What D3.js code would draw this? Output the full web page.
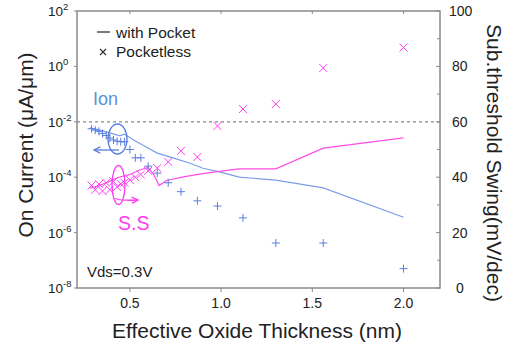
<!DOCTYPE html>
<html lang="en">
<head>
	<title>On Current and Sub-threshold Swing vs EOT</title>
	<script src="https://d3js.org/d3.v7.min.js" charset="utf-8"></script>
	<style>
		body { margin: 0; background: #fff; }
		text { font-family: "Liberation Sans", Arial, sans-serif; fill: #222; }
	</style>
</head>
<body>
<script>
	// Pocketless points (markers)
	var eotPts = [0.29, 0.31, 0.33, 0.35, 0.37, 0.39, 0.41, 0.43, 0.45, 0.47, 0.50, 0.53, 0.56, 0.60, 0.65, 0.71, 0.78, 0.87, 0.98, 1.12, 1.30, 1.56, 2.0];
	var ionPocketless = [5.6e-3, 5.0e-3, 4.5e-3, 3.8e-3, 3.2e-3, 2.6e-3, 2.2e-3, 2.0e-3, 1.9e-3, 1.9e-3, 1.0e-3, 5.0e-4, 5.0e-4, 2.5e-4, 1.4e-4, 6.3e-5, 3.0e-5, 1.4e-5, 9.1e-6, 3.4e-6, 4.2e-7, 4.2e-7, 5.0e-8];
	var ssPocketless = [37, 35.5, 37.5, 35, 38, 35.5, 38.5, 36.5, 37.5, 38, 39, 40, 41, 42.3, 43.3, 45.5, 49.5, 47.3, 58.5, 64.6, 66.4, 79.4, 86.8];

	// With pocket (lines)
	var eotIonLine = [0.28, 0.335, 0.39, 0.445, 0.47, 0.52, 0.57, 0.65, 0.74, 0.83, 0.90, 0.99, 1.10, 1.30, 1.56, 2.0];
	var ionPocket = [6.0e-3, 5.0e-3, 4.0e-3, 3.1e-3, 3.6e-3, 2.2e-3, 1.45e-3, 7.4e-4, 4.9e-4, 3.2e-4, 2.1e-4, 1.55e-4, 1.0e-4, 7.9e-5, 4.1e-5, 3.6e-6];
	var eotSsLine = [0.28, 0.33, 0.39, 0.44, 0.50, 0.55, 0.60, 0.63, 0.66, 0.70, 0.80, 0.90, 1.00, 1.10, 1.30, 1.56, 2.0];
	var ssPocket = [36, 37, 38.5, 40, 41, 42.5, 43.5, 41, 37, 38.8, 40.2, 41.3, 42.2, 43, 43, 50.5, 54.2];

	var xTicks = [0.5, 1.0, 1.5, 2.0];
	var leftExps = [2, 0, -2, -4, -6, -8];
	var rightTicks = [0, 20, 40, 60, 80, 100];

	var w = 521, h = 347;
	var pL = 77, pR = 440, pT = 11, pB = 288;
	var blue = "#5a7ee0", blueLine = "#7d9de8", pink = "#ff3df0", pinkLine = "#ff4ee8";
	var axisCol = "#8a8a8a";

	var svg = d3.select("body").append("svg").attr("width", w).attr("height", h);

	var x = d3.scaleLinear().domain([0.21, 2.2]).range([pL, pR]);
	var yL = d3.scaleLog().domain([1e-8, 1e2]).range([pB, pT]);
	var yR = d3.scaleLinear().domain([0, 100]).range([pB, pT]);

	// frame
	svg.append("rect")
		.attr("x", pL).attr("y", pT)
		.attr("width", pR - pL).attr("height", pB - pT)
		.attr("fill", "none").attr("stroke", axisCol).attr("stroke-width", 1.5);

	// dashed reference line at 10^-2 / 60 mV/dec
	svg.append("line")
		.attr("x1", pL).attr("x2", pR)
		.attr("y1", yL(1e-2)).attr("y2", yL(1e-2))
		.attr("stroke", "#888").attr("stroke-dasharray", "3,3").attr("stroke-width", 1.2);

	// x ticks (bottom outward, top inward)
	xTicks.forEach(function(t) {
		svg.append("line").attr("x1", x(t)).attr("x2", x(t)).attr("y1", pB).attr("y2", pB + 4)
			.attr("stroke", axisCol);
		svg.append("line").attr("x1", x(t)).attr("x2", x(t)).attr("y1", pT).attr("y2", pT + 3)
			.attr("stroke", axisCol);
		svg.append("text").attr("x", x(t)).attr("y", 308)
			.attr("text-anchor", "middle").attr("font-size", 14)
			.text(t.toFixed(1));
	});

	// left log ticks
	leftExps.forEach(function(e) {
		var yy = yL(Math.pow(10, e));
		svg.append("line").attr("x1", pL - 3).attr("x2", pL).attr("y1", yy).attr("y2", yy).attr("stroke", axisCol);
		var t = svg.append("text").attr("x", 48).attr("y", yy + 5).attr("font-size", 13.5);
		t.append("tspan").text("10");
		t.append("tspan").attr("dy", -6).attr("font-size", 9.5).text(e);
	});

	// right ticks with minor ticks
	d3.range(0, 101, 10).forEach(function(v) {
		svg.append("line").attr("x1", pR - (v % 20 === 0 ? 4 : 3)).attr("x2", pR)
			.attr("y1", yR(v)).attr("y2", yR(v)).attr("stroke", axisCol);
	});
	rightTicks.forEach(function(v) {
		svg.append("text").attr("x", v === 0 ? 456 : (v === 100 ? 449 : 452)).attr("y", yR(v) + 5)
			.attr("font-size", 14).text(v);
	});

	// lines
	var lineIon = d3.line().x(function(d, i) { return x(eotIonLine[i]); }).y(function(d) { return yL(d); });
	var lineSs = d3.line().x(function(d, i) { return x(eotSsLine[i]); }).y(function(d) { return yR(d); });

	svg.append("path").datum(ionPocket).attr("d", lineIon)
		.attr("fill", "none").attr("stroke", blueLine).attr("stroke-width", 1.2);
	svg.append("path").datum(ssPocket).attr("d", lineSs)
		.attr("fill", "none").attr("stroke", pinkLine).attr("stroke-width", 1.2);

	// plus markers (Ion, pocketless)
	var s = 4;
	svg.selectAll(".plus").data(ionPocketless).enter().append("path")
		.attr("class", "plus")
		.attr("d", function(d, i) {
			var cx = x(eotPts[i]), cy = yL(d);
			return "M" + (cx - s) + "," + cy + "H" + (cx + s) + "M" + cx + "," + (cy - s) + "V" + (cy + s);
		})
		.attr("stroke", blue).attr("stroke-width", 1);

	// cross markers (S.S, pocketless)
	var c = 4;
	svg.selectAll(".cross").data(ssPocketless).enter().append("path")
		.attr("class", "cross")
		.attr("d", function(d, i) {
			var cx = x(eotPts[i]), cy = yR(d);
			return "M" + (cx - c) + "," + (cy - c) + "L" + (cx + c) + "," + (cy + c) +
				"M" + (cx - c) + "," + (cy + c) + "L" + (cx + c) + "," + (cy - c);
		})
		.attr("stroke", pink).attr("stroke-width", 1);

	// arrow markers
	var defs = svg.append("defs");
	[["arrB", blue], ["arrP", pink]].forEach(function(a) {
		defs.append("marker").attr("id", a[0]).attr("viewBox", "0 0 10 10")
			.attr("refX", 9).attr("refY", 5).attr("markerWidth", 6).attr("markerHeight", 6)
			.attr("orient", "auto-start-reverse")
			.append("path").attr("d", "M1,1 L9,5 L1,9").attr("fill", "none").attr("stroke", a[1]).attr("stroke-width", 1.6);
	});

	// Ion annotation
	svg.append("ellipse").attr("cx", 117.5).attr("cy", 139).attr("rx", 9.5).attr("ry", 15)
		.attr("fill", "none").attr("stroke", blue).attr("stroke-width", 1.3);
	svg.append("path").attr("d", "M119,150 Q117,150 94,150")
		.attr("fill", "none").attr("stroke", blue).attr("stroke-width", 1.3).attr("marker-end", "url(#arrB)");
	svg.append("text").attr("x", 93).attr("y", 105).attr("font-size", 18).style("fill", "#5b8fd8").text("Ion");

	// S.S annotation
	svg.append("ellipse").attr("cx", 118.5).attr("cy", 185).attr("rx", 6.5).attr("ry", 19.5)
		.attr("fill", "none").attr("stroke", pink).attr("stroke-width", 1.3);
	svg.append("path").attr("d", "M115,198 Q117,201 138,200")
		.attr("fill", "none").attr("stroke", pink).attr("stroke-width", 1.3).attr("marker-end", "url(#arrP)");
	svg.append("text").attr("x", 118).attr("y", 230).attr("font-size", 19.5).style("fill", pink).text("S.S");

	// legend
	svg.append("line").attr("x1", 97).attr("x2", 110).attr("y1", 32).attr("y2", 32).attr("stroke", "#333").attr("stroke-width", 1.3);
	svg.append("text").attr("x", 116).attr("y", 38).attr("font-size", 15.5).text("with Pocket");
	svg.append("path").attr("d", "M100,49L106,55M100,55L106,49").attr("stroke", "#333").attr("stroke-width", 1.2);
	svg.append("text").attr("x", 116).attr("y", 57).attr("font-size", 15.5).text("Pocketless");

	svg.append("text").attr("x", 87).attr("y", 277).attr("font-size", 15).text("Vds=0.3V");

	// axis titles
	svg.append("text").attr("text-anchor", "middle")
		.attr("transform", "translate(33,145) rotate(-90)")
		.attr("font-size", 21).text("On Current (\u03bcA/\u03bcm)");
	svg.append("text").attr("text-anchor", "middle")
		.attr("transform", "translate(487,163) rotate(90)")
		.attr("font-size", 21).text("Sub.threshold Swing(mV/dec)");
	svg.append("text").attr("text-anchor", "middle")
		.attr("x", 257).attr("y", 338)
		.attr("font-size", 21).text("Effective Oxide Thickness (nm)");
</script>
</body>
</html>
